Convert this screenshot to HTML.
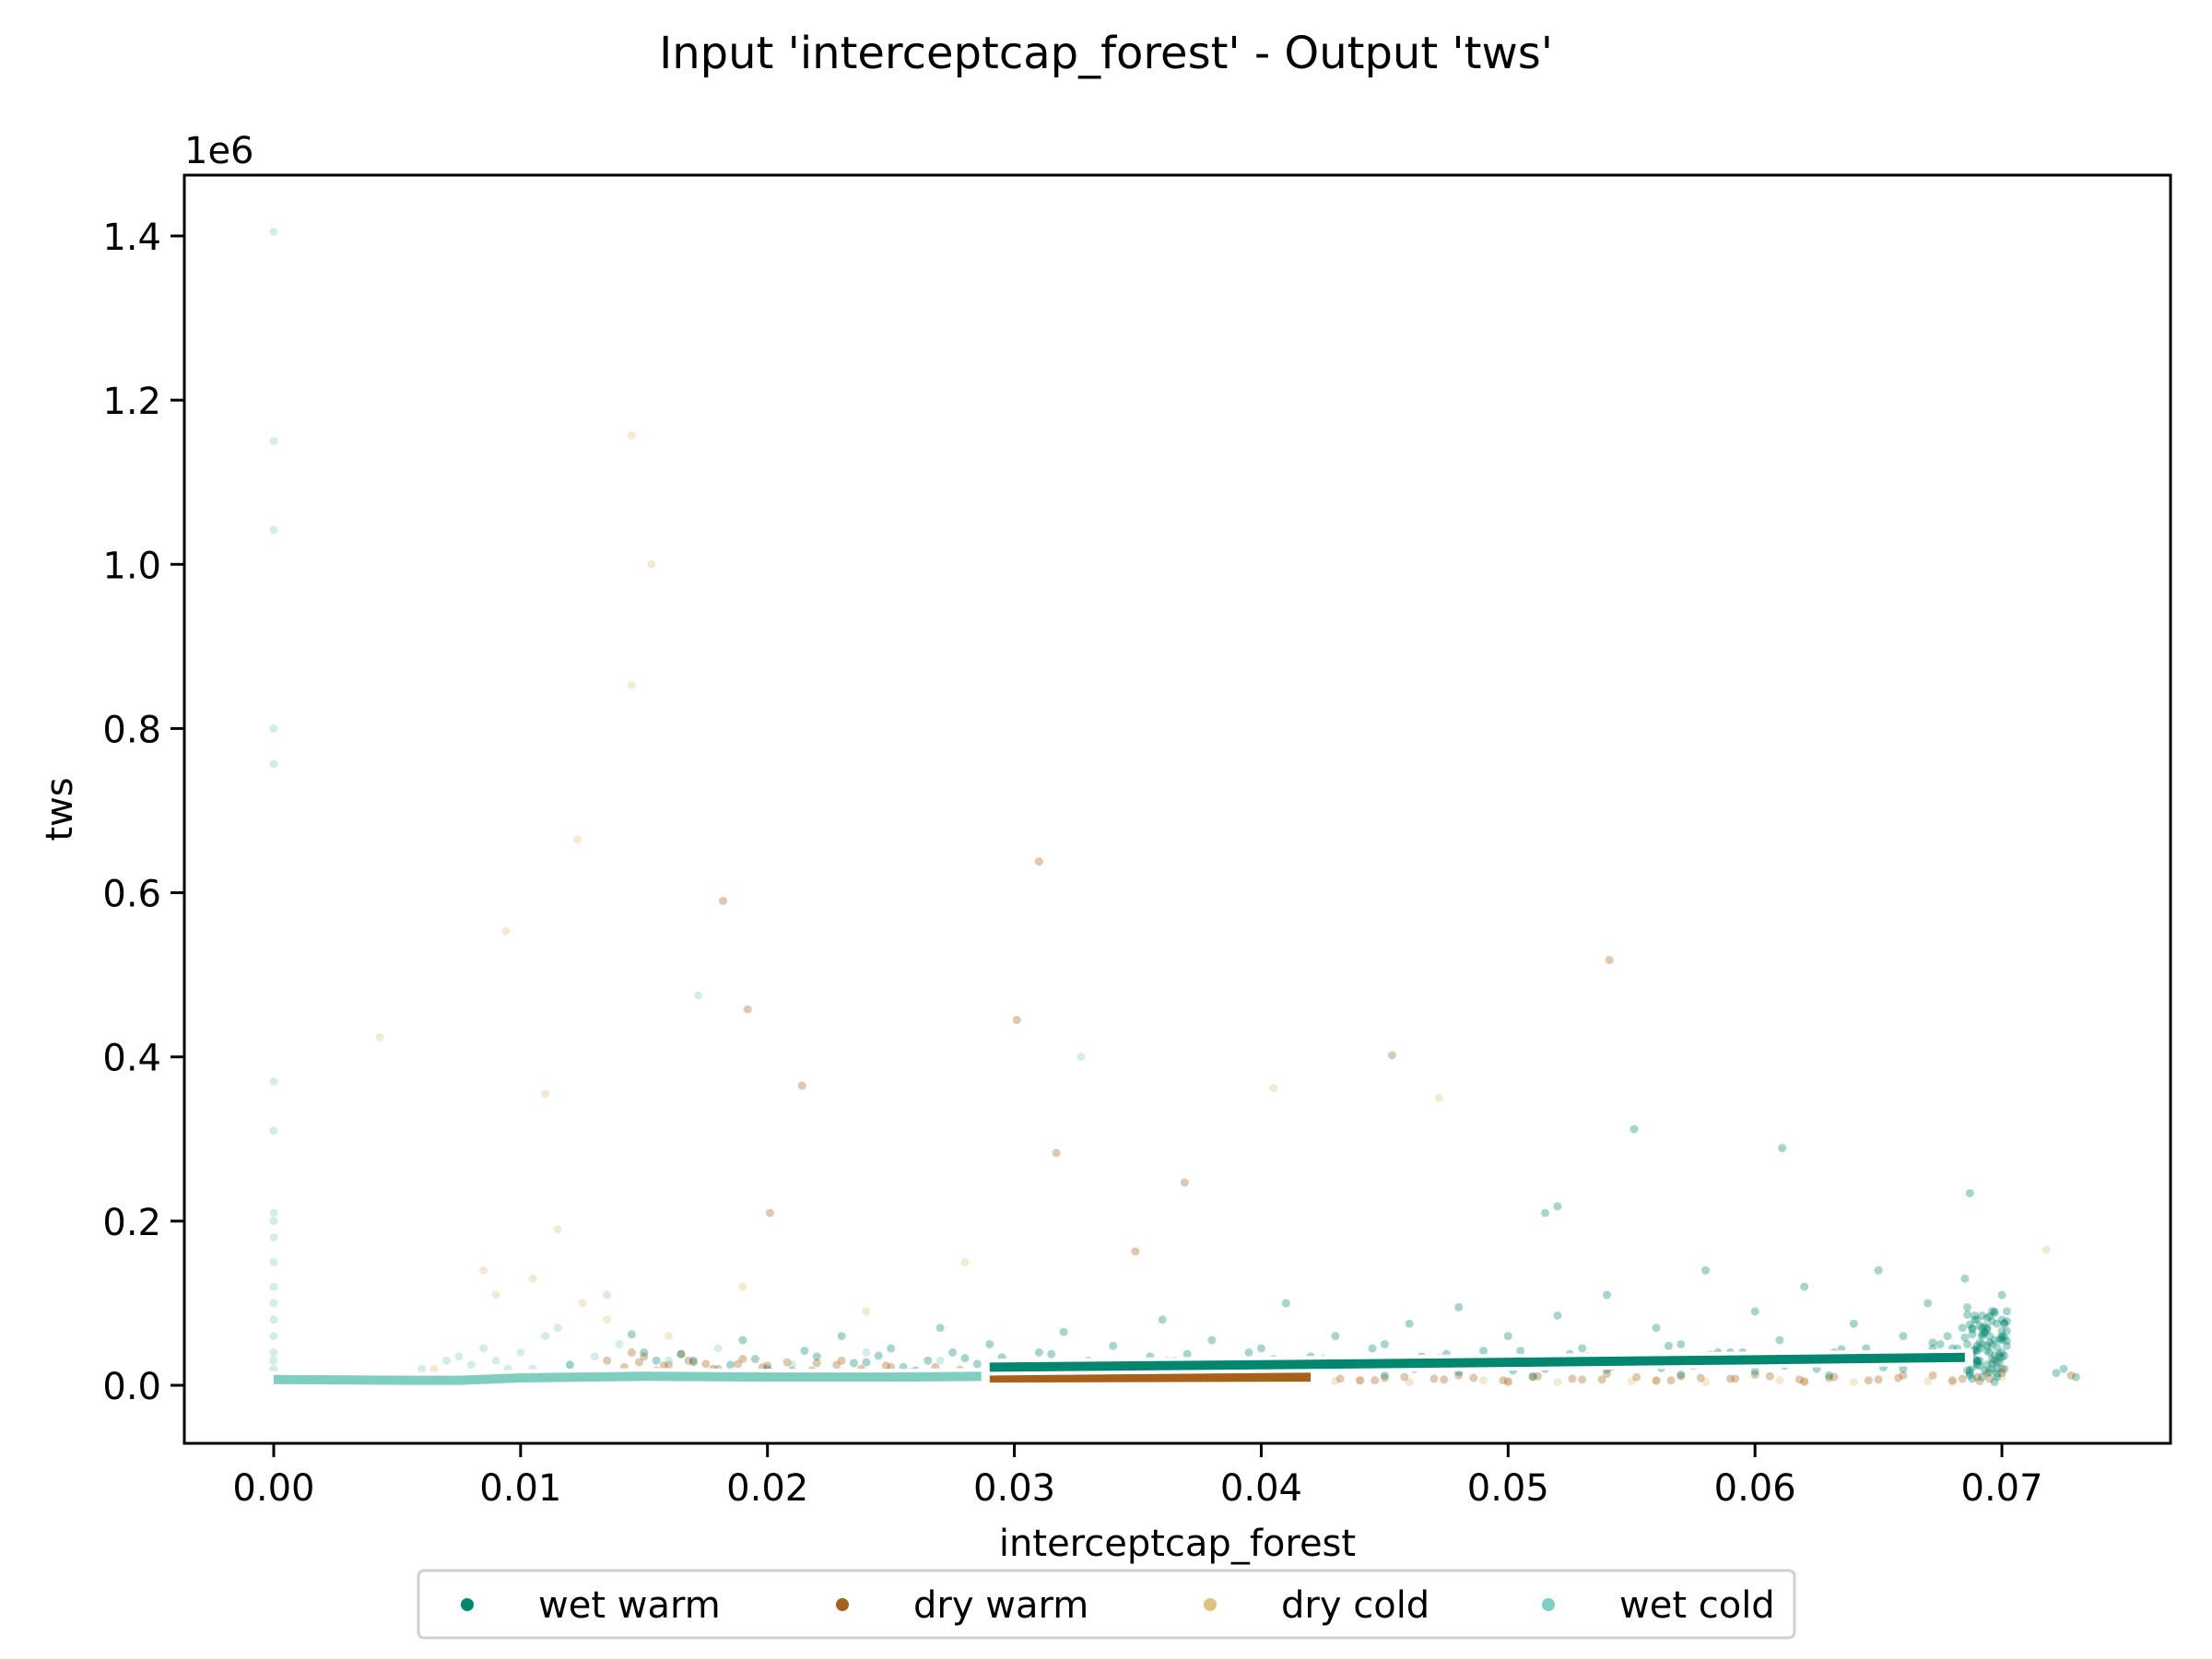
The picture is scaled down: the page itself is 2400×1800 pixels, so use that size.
<!DOCTYPE html>
<html><head><meta charset="utf-8"><style>
body{margin:0;background:#fff}
svg{display:block;font-family:"DejaVu Sans","Liberation Sans",sans-serif}
</style></head><body>
<svg id="chart" width="2400" height="1800" viewBox="0 0 2400 1800" xmlns="http://www.w3.org/2000/svg">
<rect width="2400" height="1800" fill="#fff"/>
<text x="1200" y="74" font-size="48" text-anchor="middle">Input 'interceptcap_forest' - Output 'tws'</text>
<g id="plot"></g>
<g id="axes"></g>
<g id="legend"></g>
</svg>
<script>
const xTicks=[0,0.01,0.02,0.03,0.04,0.05,0.06,0.07];
const xTickLabels=["0.00","0.01","0.02","0.03","0.04","0.05","0.06","0.07"];
const yTicks=[0,0.2,0.4,0.6,0.8,1.0,1.2,1.4];
const yTickLabels=["0.0","0.2","0.4","0.6","0.8","1.0","1.2","1.4"];
const seriesNames=["wet warm","dry warm","dry cold","wet cold"];
const seriesColors=["#01876f","#a6611a","#dfc27d","#80cdc1"];
// values in units of 1e6
const wetWarmX=[0.012,0.015,0.017,0.019,0.020,0.022,0.023,0.024,0.025,0.026,0.027,0.028,0.029,0.030,0.031,0.032,0.033,0.034,0.035,0.036,0.037,0.038,0.039,0.040,0.041,0.042,0.043,0.044,0.045,0.046,0.047,0.048,0.049,0.050,0.051,0.052,0.053,0.054,0.055,0.056,0.057,0.058,0.059,0.060,0.061,0.062,0.063,0.064,0.065,0.066,0.067,0.068,0.0685,0.069,0.0695,0.070,0.0700,0.0698,0.0692,0.0688,0.0696,0.0690,0.0702,0.0725,0.073,0.0722,0.0551,0.0611,0.0687,0.052,0.0515,0.033,0.036,0.039,0.042,0.045,0.048,0.051,0.054,0.057,0.060,0.063,0.066,0.0345,0.0375,0.0405,0.0435,0.0465,0.0495,0.0525,0.0555,0.0585,0.0615,0.0645,0.0675,0.0689,0.0693,0.0697,0.0701,0.0686,0.0691,0.0699,0.0694,0.0687,0.0700,0.0689,0.0695,0.0701,0.0692,0.0686,0.0698,0.0691,0.0697,0.0688,0.0694,0.0700,0.0690,0.0696,0.0702,0.0687,
0.0145,0.0155,0.0165,0.0185,0.0195,0.0215,0.0235,0.0245,0.0255,0.0265,0.0275,0.0285,0.0295,0.0305,0.0315,0.0325,0.0335,0.0355,0.0365,0.0385,0.0395,0.0415,0.0425,0.0445,0.0455,0.0475,0.0485,0.0505,0.0515,0.0535,0.0545,0.0565,0.0575,0.0595,0.0605,0.0625,0.0635,0.0655,0.0665,0.0672,0.0678,0.0682,0.0684,0.0686,0.0688,0.0690,0.0692,0.0694,0.0696,0.0698,0.0700,0.0702,0.0689,0.0693,0.0697,0.0701,0.0685,0.0699,0.0691,0.0695,
0.0302,0.0312,0.0322,0.0342,0.0352,0.0362,0.0382,0.0392,0.0402,0.0412,0.0432,0.0442,0.0452,0.0462,0.0472,0.0492,0.0502,0.0512,0.0532,0.0542,0.0552,0.0562,0.0582,0.0592,0.0602,0.0612,0.0632,0.0642,0.0652,0.0662,0.0672,0.0682,
0.0686,0.0687,0.0688,0.0689,0.0690,0.0691,0.0692,0.0693,0.0694,0.0695,0.0696,0.0697,0.0698,0.0699,0.0700,0.0701,0.0686,0.0688,0.0690,0.0692,0.0694,0.0696,0.0698,0.0700,0.0702,0.0687,0.0689,0.0691,0.0693,0.0695,0.0697,0.0699,0.0701,0.0686,0.0690,0.0694,0.0698,0.0702,0.0688,0.0692,0.0696,0.0700];
const wetWarmY=[0.025,0.040,0.030,0.055,0.020,0.035,0.060,0.028,0.045,0.018,0.070,0.033,0.050,0.022,0.040,0.065,0.030,0.048,0.025,0.080,0.038,0.055,0.028,0.045,0.100,0.035,0.060,0.025,0.050,0.075,0.030,0.095,0.042,0.060,0.028,0.085,0.045,0.110,0.035,0.070,0.050,0.140,0.040,0.090,0.055,0.120,0.035,0.075,0.140,0.060,0.100,0.045,0.130,0.080,0.060,0.110,0.040,0.020,0.010,0.070,0.050,0.030,0.090,0.020,0.010,0.015,0.312,0.289,0.234,0.218,0.210,0.012,0.015,0.010,0.018,0.012,0.016,0.011,0.019,0.013,0.017,0.012,0.020,0.028,0.022,0.032,0.026,0.035,0.030,0.038,0.033,0.040,0.036,0.045,0.050,0.085,0.065,0.055,0.075,0.095,0.045,0.035,0.025,0.015,0.060,0.080,0.040,0.020,0.070,0.050,0.010,0.030,0.090,0.068,0.042,0.058,0.028,0.078,0.048,0.018,0.062,
0.030,0.038,0.025,0.032,0.042,0.027,0.036,0.022,0.030,0.040,0.026,0.034,0.024,0.038,0.028,0.020,0.035,0.030,0.022,0.040,0.026,0.032,0.045,0.022,0.038,0.028,0.042,0.020,0.035,0.030,0.048,0.024,0.040,0.032,0.020,0.044,0.028,0.036,0.052,0.060,0.045,0.070,0.038,0.062,0.025,0.085,0.048,0.032,0.075,0.055,0.066,0.042,0.018,0.088,0.036,0.058,0.028,0.072,0.052,0.024,
0.020,0.026,0.018,0.024,0.030,0.021,0.027,0.019,0.025,0.031,0.022,0.028,0.020,0.033,0.024,0.018,0.029,0.035,0.023,0.030,0.021,0.037,0.026,0.032,0.024,0.040,0.028,0.022,0.034,0.045,0.030,0.038,
0.012,0.022,0.032,0.042,0.052,0.062,0.072,0.082,0.016,0.026,0.036,0.046,0.056,0.066,0.076,0.086,0.008,0.030,0.050,0.070,0.090,0.014,0.034,0.054,0.074,0.044,0.024,0.064,0.084,0.004,0.038,0.058,0.018,0.048,0.068,0.028,0.078,0.040,0.060,0.020,0.080,0.010];
const dryWarmX=[0.0135,0.0142,0.015,0.016,0.017,0.018,0.019,0.020,0.021,0.022,0.023,0.025,0.027,0.030,0.033,0.036,0.039,0.042,0.045,0.048,0.051,0.054,0.057,0.060,0.063,0.066,0.069,0.0700,0.0695,0.0728,0.031,0.0182,0.0541,0.0192,0.0301,0.0453,0.0214,0.0317,0.0369,0.0201,0.0349,0.044,0.047,0.050,0.053,0.056,0.059,0.062,0.065,0.068,0.0145,0.0155,0.0165,0.0175,0.0148,0.0158,0.0168,0.0178,0.0188,0.0198,0.0208,0.0218,0.0228,0.0238,0.0248,0.0258,0.0268,0.0278,0.0288,0.0298,
0.0432,0.0446,0.0458,0.0474,0.0486,0.0498,0.0512,0.0526,0.0538,0.0552,0.0566,0.0578,0.0592,0.0606,0.0618,0.0632,0.0646,0.0658,0.0672,0.0684,0.0694,0.0700,0.0697,0.0691];
const dryWarmY=[0.030,0.022,0.035,0.025,0.028,0.020,0.032,0.024,0.018,0.027,0.030,0.022,0.015,0.012,0.010,0.014,0.011,0.013,0.009,0.012,0.010,0.014,0.011,0.013,0.009,0.012,0.010,0.015,0.008,0.012,0.638,0.590,0.518,0.458,0.445,0.402,0.365,0.283,0.247,0.210,0.163,0.006,0.008,0.005,0.007,0.006,0.008,0.005,0.007,0.006,0.040,0.018,0.038,0.026,0.028,0.024,0.030,0.020,0.026,0.022,0.028,0.018,0.025,0.020,0.024,0.016,0.022,0.019,0.015,0.017,
0.008,0.006,0.010,0.007,0.009,0.006,0.011,0.008,0.007,0.010,0.006,0.009,0.008,0.011,0.007,0.010,0.006,0.009,0.012,0.008,0.015,0.020,0.030,0.005];
const dryColdX=[0.0145,0.0153,0.0145,0.0123,0.0094,0.0043,0.011,0.0405,0.0472,0.0718,0.0065,0.0085,0.0105,0.0125,0.0135,0.016,0.019,0.024,0.028,0.043,0.046,0.049,0.052,0.055,0.058,0.061,0.064,0.067,0.0700,0.040,0.044,0.050,0.056,0.062,0.068,0.009,0.0115];
const dryColdY=[1.157,1.000,0.853,0.665,0.553,0.424,0.355,0.362,0.350,0.165,0.020,0.140,0.130,0.100,0.080,0.060,0.120,0.090,0.150,0.005,0.004,0.006,0.004,0.005,0.004,0.006,0.004,0.005,0.010,0.004,0.006,0.003,0.005,0.003,0.004,0.110,0.190];
const wetColdX=[0,0,0,0,0,0,0,0,0,0,0,0,0,0,0,0,0,0,0.0172,0.0327,0.006,0.007,0.0075,0.008,0.0085,0.009,0.0095,0.010,0.011,0.012,0.013,0.014,0.016,0.018,0.021,0.024,0.027,0.0105,0.0115,0.0135];
const wetColdY=[1.405,1.150,1.042,0.800,0.757,0.370,0.310,0.210,0.200,0.180,0.150,0.120,0.100,0.080,0.060,0.040,0.030,0.020,0.475,0.400,0.020,0.030,0.035,0.025,0.045,0.030,0.020,0.040,0.060,0.025,0.035,0.050,0.030,0.045,0.025,0.040,0.030,0.020,0.070,0.110];
const meanLineX=[[0.029,0.040,0.050,0.060,0.0685],[0.029,0.035,0.042],[],[0,0.0055,0.0075,0.010,0.015,0.020,0.025,0.029]];
const meanLineY=[[0.022,0.025,0.028,0.031,0.034],[0.009,0.0095,0.010],[],[0.007,0.006,0.006,0.009,0.011,0.010,0.010,0.011]];

const L=200,R=2355,T=190,B=1566;
const xMin=-0.00362,xMax=0.07683,yMin=-0.0707,yMax=1.4741;
const sx=v=>L+(v-xMin)/(xMax-xMin)*(R-L);
const sy=v=>B-(v-yMin)/(yMax-yMin)*(B-T);
const NS="http://www.w3.org/2000/svg";
function mk(tag,attrs,parent){const e=document.createElementNS(NS,tag);for(const k in attrs)e.setAttribute(k,attrs[k]);parent.appendChild(e);return e;}
const plot=document.getElementById('plot'),axes=document.getElementById('axes'),leg=document.getElementById('legend');
const allX=[wetWarmX,dryWarmX,dryColdX,wetColdX],allY=[wetWarmY,dryWarmY,dryColdY,wetColdY];
[2,1,0,3].forEach(s=>{
  const g=mk('g',{},plot);
  
  
  allX[s].forEach((x,i)=>{
    const c=mk('circle',{cx:sx(x),cy:sy(allY[s][i]),r:4.5,fill:seriesColors[s],'fill-opacity':0.35},g);
    
    
  });
});
[3,1,0].forEach(s=>{
  const xs=meanLineX[s],ys=meanLineY[s];
  if(!xs.length)return;
  const d=xs.map((x,i)=>(i?'L':'M')+sx(x)+','+sy(ys[i])).join(' ');
  mk('path',{d:d,fill:'none',stroke:'#fff','stroke-width':18,'stroke-linecap':'square'},plot);
  const p=mk('path',{d:d,fill:'none',stroke:seriesColors[s],'stroke-width':10},plot);
  
  
});
mk('rect',{x:L,y:T,width:R-L,height:B-T,fill:'none',stroke:'#000','stroke-width':3},axes);
xTicks.forEach((v,i)=>{
  mk('line',{x1:sx(v),x2:sx(v),y1:B,y2:B+15,stroke:'#000','stroke-width':3},axes);
  const t=mk('text',{x:sx(v),y:1628,'font-size':40,'text-anchor':'middle'},axes);t.textContent=xTickLabels[i];
  
  
});
yTicks.forEach((v,i)=>{
  mk('line',{x1:L-15,x2:L,y1:sy(v),y2:sy(v),stroke:'#000','stroke-width':3},axes);
  const t=mk('text',{x:L-25,y:sy(v)+15,'font-size':40,'text-anchor':'end'},axes);t.textContent=yTickLabels[i];
  
  
});
let t=mk('text',{x:L,y:177,'font-size':40},axes);t.textContent='1e6';

t=mk('text',{x:(L+R)/2,y:1688,'font-size':40,'text-anchor':'middle'},axes);t.textContent='interceptcap_forest';

t=mk('text',{x:0,y:0,'font-size':40,'text-anchor':'middle',transform:'translate(78,'+((T+B)/2)+') rotate(-90)'},axes);t.textContent='tws';

mk('rect',{x:454,y:1704,width:1493,height:73,rx:6,fill:'#fff',stroke:'#d0d0d0','stroke-width':3},leg);
const lx=[507,914,1313,1680];
seriesNames.forEach((n,i)=>{
  mk('circle',{cx:lx[i],cy:1741,r:7,fill:seriesColors[i]},leg);
  const tt=mk('text',{x:lx[i]+77,y:1755,'font-size':40},leg);tt.textContent=n;
  
  
});
</script>
</body></html>
